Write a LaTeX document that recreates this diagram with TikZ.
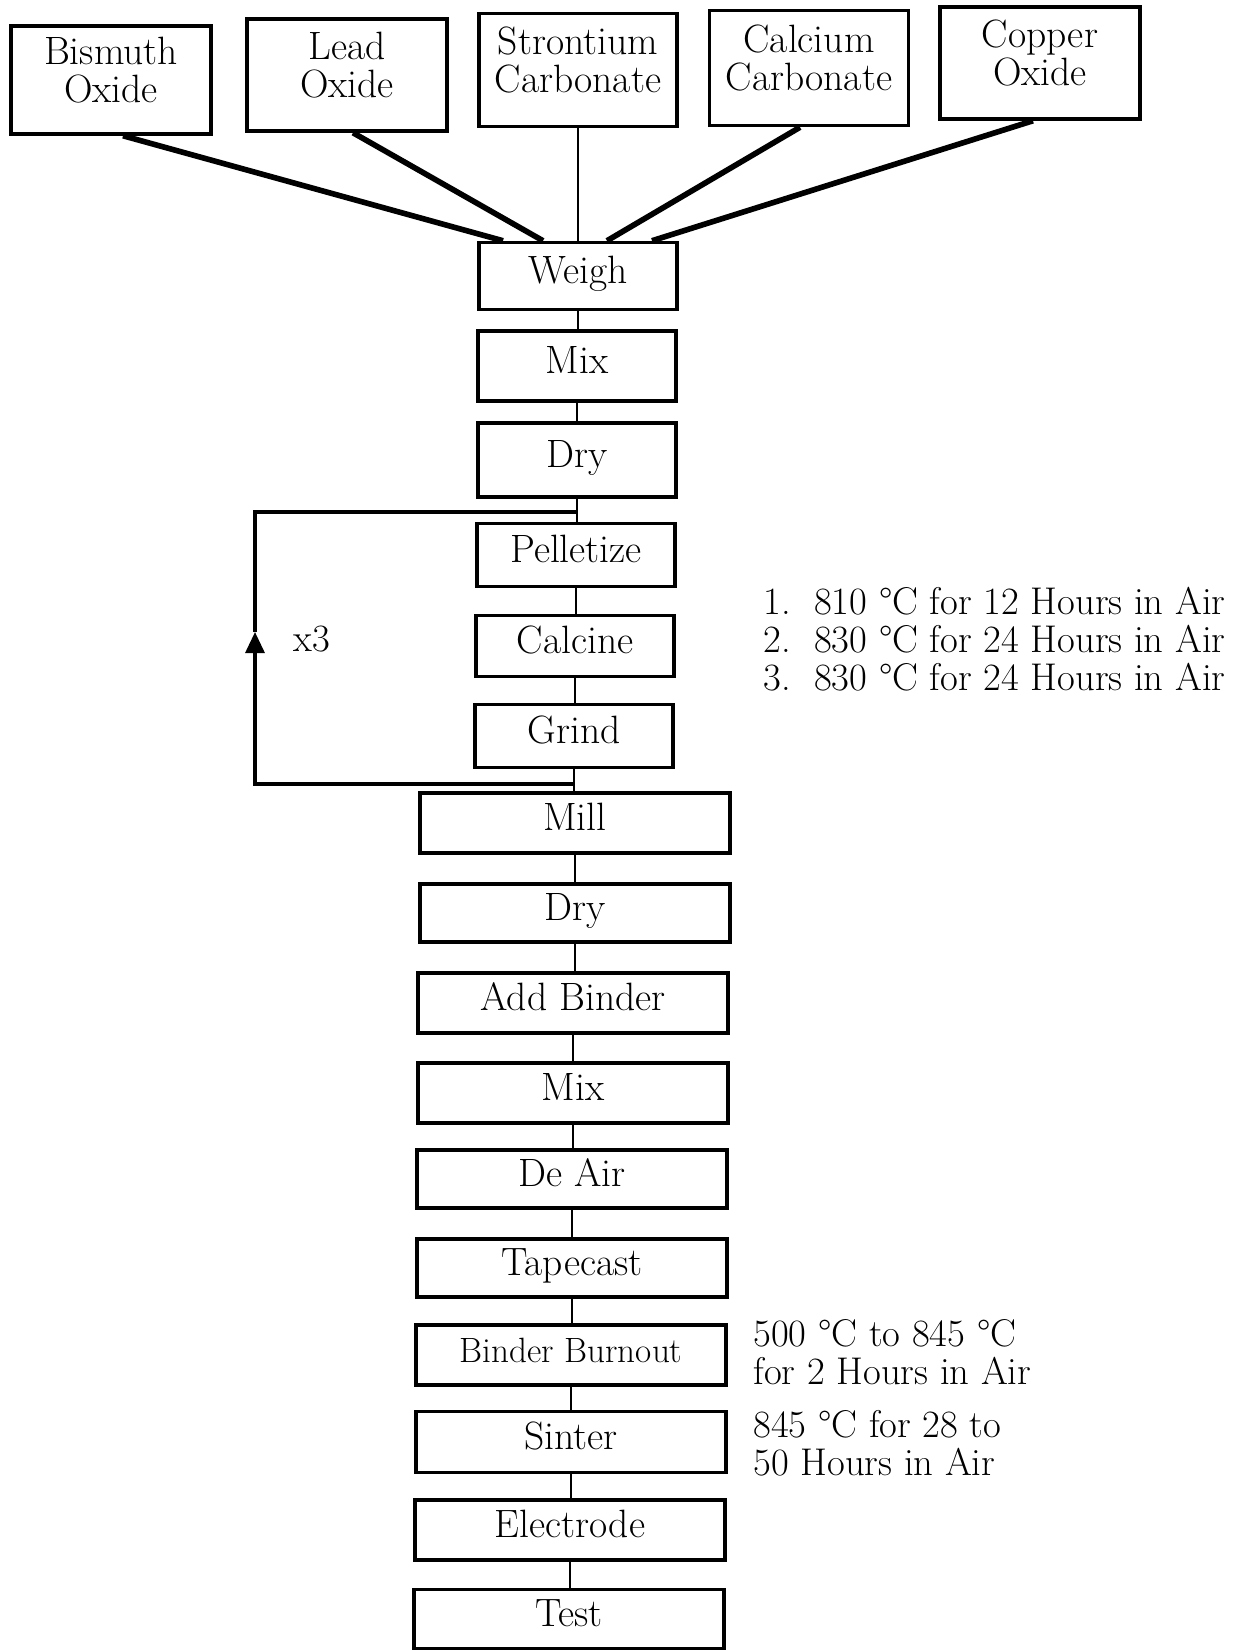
\documentclass[tikz,border=0pt]{standalone}
\usepackage{tikz}
\usetikzlibrary{arrows.meta}

\tikzset{
  box/.style={draw, line width=2pt, align=center, inner sep=0pt,
    font=\fontsize{22.5}{21.5}\selectfont},
  source/.style={box, minimum width=4cm, text depth=0.4cm},
  stage/.style={box, minimum width=3.96cm, text height=0.5cm, text depth=0.2cm},
  wide/.style={box, minimum width=6.2cm, minimum height=1.2cm,
    text height=0.5cm, text depth=0.2cm},
  feed/.style={line width=3.2pt},
  link/.style={line width=1.1pt},
  loopline/.style={line width=1.8pt},
  note/.style={align=left, anchor=west, inner sep=0pt,
    font=\fontsize{22}{21.5}\selectfont}
}

\begin{document}
\begin{tikzpicture}[x=0.02cm, y=-0.02cm]
      \useasboundingbox (0,0) rectangle (1236,1650);
      % starting powders
      \node [source, minimum height=2.16cm] (bis) at (111,80) {Bismuth\\Oxide};
      \node [source, minimum height=2.24cm] (lead) at (347,75) {Lead\\Oxide};
      \node [source, minimum height=2.26cm, minimum width=3.96cm] (sr) at (578,70) {Strontium\\Carbonate};
      \node [source, minimum height=2.3cm, minimum width=3.98cm] (ca) at (809,68) {Calcium\\Carbonate};
      \node [source, minimum height=2.24cm] (cu) at (1040,63) {Copper\\Oxide};
      % powder route
      \node [stage, minimum height=1.34cm] (weigh) at (578,276) {Weigh};
      \node [stage, minimum height=1.4cm] (mixA) at (577,366) {Mix};
      \node [stage, minimum height=1.48cm] (dryA) at (577,460) {Dry};
      \node [stage, minimum height=1.26cm] (pell) at (576,555) {Pelletize};
      \node [stage, minimum height=1.22cm] (calc) at (575,646) {Calcine};
      \node [stage, minimum height=1.26cm] (grind) at (574,736) {Grind};
      % tape route
      \node [wide] (mill) at (575,823) {Mill};
      \node [wide, minimum height=1.16cm] (dryB) at (575,913) {Dry};
      \node [wide] (binder) at (573,1003) {Add Binder};
      \node [wide] (mixB) at (573,1093) {Mix};
      \node [wide, minimum height=1.16cm] (deair) at (572,1179) {De Air};
      \node [wide, minimum height=1.16cm] (tape) at (572,1268) {Tapecast};
      \node [wide, font=\fontsize{20}{20}\selectfont] (burn) at (571,1355) {Binder Burnout};
      \node [wide, minimum height=1.22cm] (sinter) at (571,1442) {Sinter};
      \node [wide] (electrode) at (570,1530) {Electrode};
      \node [wide, minimum height=1.18cm] (test) at (569,1619) {Test};
      % notes
      \node [note] (calcnote) at (763,639) {1.\ \ 810 \textdegree C for 12 Hours in Air\\2.\ \ 830 \textdegree C for 24 Hours in Air\\3.\ \ 830 \textdegree C for 24 Hours in Air};
      \node [note] (burnnote) at (753,1352) {500 \textdegree C to 845 \textdegree C\\for 2 Hours in Air};
      \node [note] (sinternote) at (753,1443) {845 \textdegree C for 28 to\\50 Hours in Air};
      \node [note, anchor=center] (times) at (312,639) {x3};
      % powders into weigh
      \draw [feed] ([xshift=0.24cm]bis.south) to ([xshift=-1.5cm]weigh.north);
      \draw [feed] ([xshift=0.12cm]lead.south) to ([xshift=-0.7cm]weigh.north);
      \draw [link] (sr.south) to (weigh.north);
      \draw [feed] ([xshift=-0.18cm]ca.south) to ([xshift=0.58cm]weigh.north);
      \draw [feed] ([xshift=-0.14cm]cu.south) to ([xshift=1.48cm]weigh.north);
      % main line
      \draw [link] (weigh.south) to (weigh.south |- mixA.north);
      \draw [link] (mixA.south) to (mixA.south |- dryA.north);
      \draw [link] (dryA.south) to (dryA.south |- pell.north);
      \draw [link] (pell.south) to (pell.south |- calc.north);
      \draw [link] (calc.south) to (calc.south |- grind.north);
      \draw [link] (grind.south) to (grind.south |- mill.north);
      \draw [link] (mill.south) to (mill.south |- dryB.north);
      \draw [link] (dryB.south) to (dryB.south |- binder.north);
      \draw [link] (binder.south) to (binder.south |- mixB.north);
      \draw [link] (mixB.south) to (mixB.south |- deair.north);
      \draw [link] (deair.south) to (deair.south |- tape.north);
      \draw [link] (tape.south) to (tape.south |- burn.north);
      \draw [link] (burn.south) to (burn.south |- sinter.north);
      \draw [link] (sinter.south) to (sinter.south |- electrode.north);
      \draw [link] (electrode.south) to (electrode.south |- test.north);
      % repeat loop
      \coordinate (ltop) at (577,512);
      \coordinate (lbot) at (574,784);
      \coordinate (ctl) at (255,512);
      \coordinate (cbl) at (255,784);
      \coordinate (tip) at (255,632);
      \draw [loopline, -{Triangle[width=0.38cm, length=0.42cm]}] (lbot) -- (cbl) -- (tip);
      \draw [loopline] (tip) -- (ctl) -- (ltop);
\end{tikzpicture}
\end{document}
